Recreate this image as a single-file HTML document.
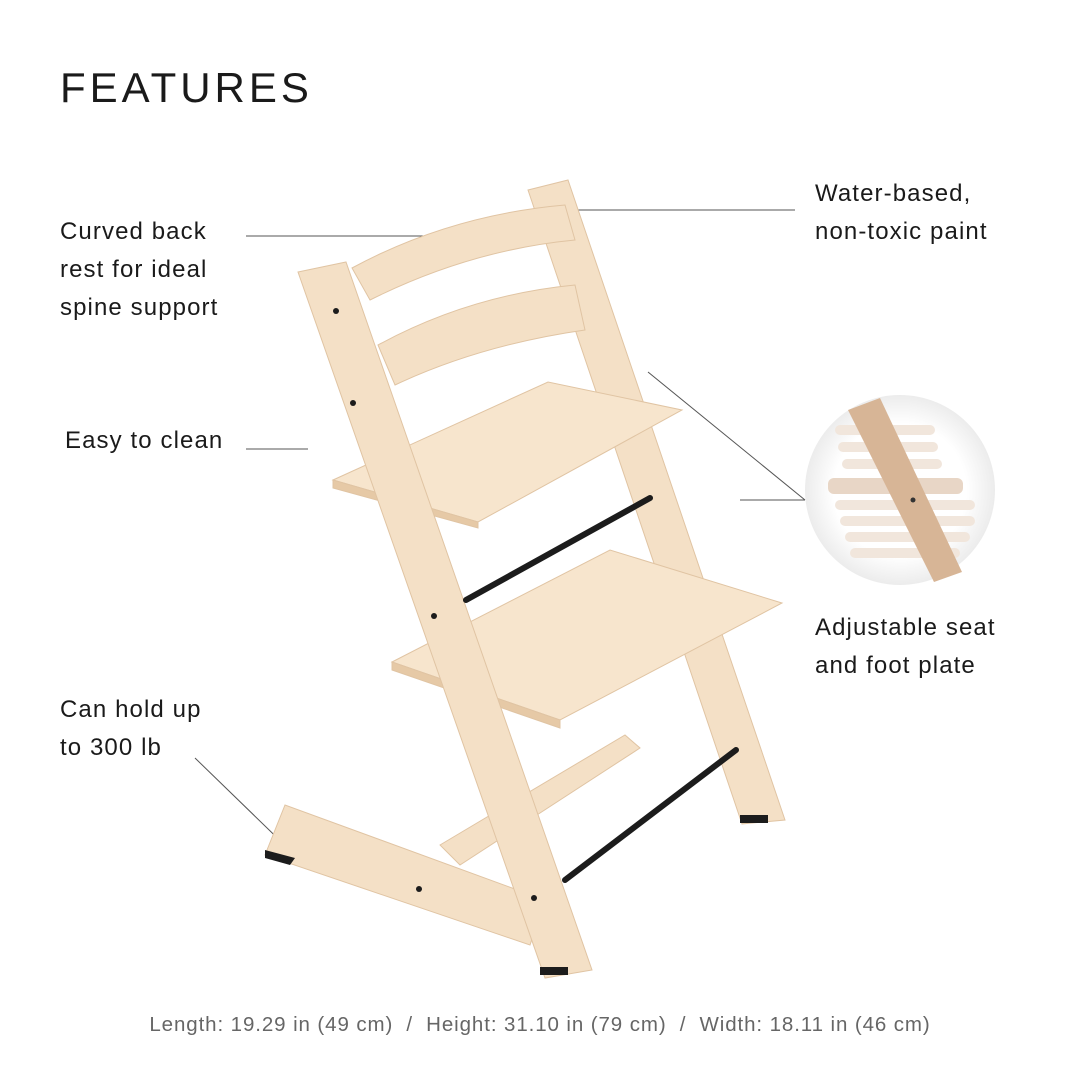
<!DOCTYPE html>
<html><head><meta charset="utf-8">
<style>
html,body{margin:0;padding:0;background:#fff;}
body{width:1080px;height:1080px;position:relative;overflow:hidden;font-family:"Liberation Sans",sans-serif;color:#1a1a1a;}
.t{position:absolute;font-size:24px;line-height:38px;letter-spacing:1.1px;}
h1{position:absolute;left:60px;top:64px;margin:0;font-weight:400;font-size:42px;letter-spacing:4px;}
.b{position:absolute;left:0;width:1080px;top:1013px;text-align:center;font-size:20.5px;letter-spacing:0.9px;color:#666;}
</style></head><body>
<h1>FEATURES</h1>
<div class="t" style="left:60px;top:213px">Curved back<br>rest for ideal<br>spine support</div>
<div class="t" style="left:65px;top:422px">Easy to clean</div>
<div class="t" style="left:60px;top:691px">Can hold up<br>to 300 lb</div>
<div class="t" style="left:815px;top:175px">Water-based,<br>non-toxic paint</div>
<div class="t" style="left:815px;top:609px">Adjustable seat<br>and foot plate</div>
<div class="b">Length: 19.29 in (49 cm) &nbsp;/&nbsp; Height: 31.10 in (79 cm) &nbsp;/&nbsp; Width: 18.11 in (46 cm)</div>
<svg width="1080" height="1080" style="position:absolute;left:0;top:0">
<defs>
<radialGradient id="g" cx="50%" cy="50%" r="50%"><stop offset="0.7" stop-color="#fff"/><stop offset="1" stop-color="#ececec"/></radialGradient>
</defs>
<g stroke="#555" stroke-width="1" fill="none">
<line x1="246" y1="236" x2="440" y2="236"/>
<line x1="575" y1="210" x2="795" y2="210"/>
<line x1="246" y1="449" x2="308" y2="449"/>
<line x1="648" y1="372" x2="805" y2="500"/>
<line x1="740" y1="500" x2="805" y2="500"/>
<line x1="195" y1="758" x2="298" y2="858"/>
</g>
<circle cx="900" cy="490" r="95" fill="url(#g)"/>
<g fill="#f1e6dc">
<rect x="835" y="425" width="100" height="10" rx="5"/>
<rect x="838" y="442" width="100" height="10" rx="5"/>
<rect x="842" y="459" width="100" height="10" rx="5"/>
<rect x="828" y="478" width="135" height="16" rx="6" fill="#e8d6c6"/>
<rect x="835" y="500" width="140" height="10" rx="5"/>
<rect x="840" y="516" width="135" height="10" rx="5"/>
<rect x="845" y="532" width="125" height="10" rx="5"/>
<rect x="850" y="548" width="110" height="10" rx="5"/>
</g>
<polygon points="848,410 880,398 962,572 934,582" fill="#d7b596"/>
<circle cx="913" cy="500" r="2.5" fill="#333"/>
<g fill="#f4e0c6" stroke="#e0c4a3" stroke-width="1">
<polygon points="528,190 568,180 785,820 742,824"/>
<path d="M352,268 Q450,215 565,205 L575,240 Q470,250 370,300 Z"/>
<path d="M378,345 Q470,295 575,285 L585,330 Q480,345 395,385 Z"/>
<polygon points="333,480 548,382 682,410 478,522" fill="#f7e5cd"/>
<polygon points="333,480 478,522 478,528 333,488" fill="#e6c9a6"/>
<polygon points="440,845 625,735 640,748 460,865"/>
<polygon points="392,662 610,550 782,603 560,720" fill="#f7e5cd"/>
<polygon points="392,662 560,720 560,728 392,670" fill="#e6c9a6"/>
<polygon points="265,855 285,805 545,900 530,945"/>
<polygon points="298,272 346,262 592,970 545,978"/>
</g>
<g stroke="#1c1c1c" stroke-width="6" stroke-linecap="round">
<line x1="466" y1="600" x2="650" y2="498"/>
<line x1="565" y1="880" x2="736" y2="750"/>
</g>
<g fill="#1c1c1c">
<polygon points="265,850 295,858 290,865 265,858"/>
<rect x="540" y="967" width="28" height="8"/>
<rect x="740" y="815" width="28" height="8"/>
<circle cx="336" cy="311" r="3"/><circle cx="353" cy="403" r="3"/>
<circle cx="434" cy="616" r="3"/><circle cx="534" cy="898" r="3"/>
<circle cx="419" cy="889" r="3"/>
</g>
</svg>
</body></html>
